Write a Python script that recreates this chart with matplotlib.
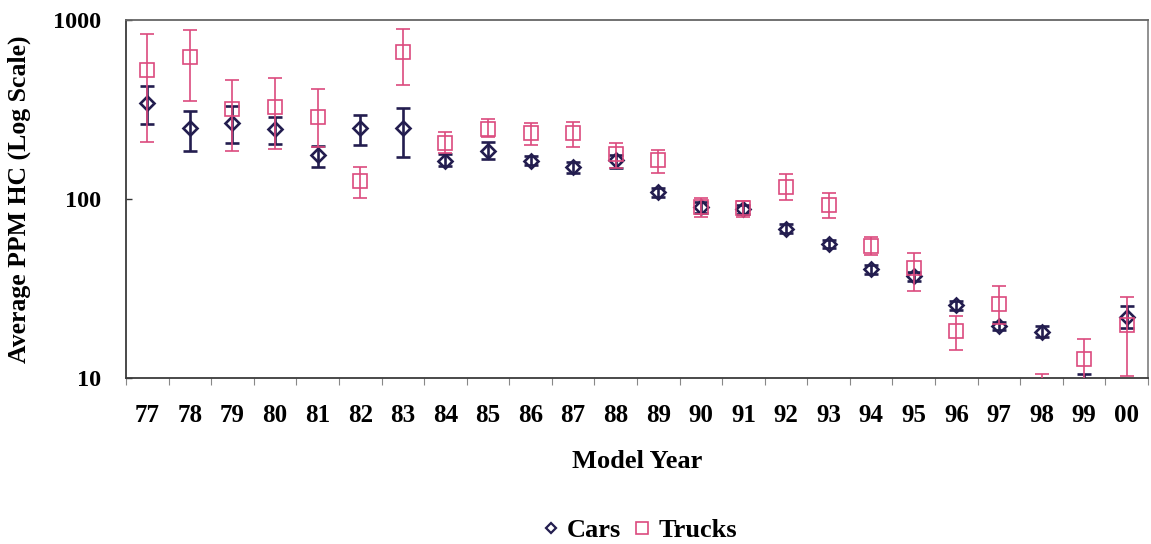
import matplotlib
matplotlib.use("Agg")
import matplotlib.pyplot as plt
import numpy as np
from matplotlib.lines import Line2D
from matplotlib.ticker import FixedLocator, NullLocator

plt.rcParams['font.family'] = ['Liberation Serif', 'DejaVu Serif']
plt.rcParams['font.weight'] = 'bold'

# Model years (two-digit labels)
years = ['77', '78', '79', '80', '81', '82', '83', '84', '85', '86', '87', '88',
         '89', '90', '91', '92', '93', '94', '95', '96', '97', '98', '99', '00']

# Cars: mean HC (ppm) with lower / upper ends of the error bars
cars_mean = [344, 249, 266, 246, 176, 249, 249, 163, 185, 163, 151, 165,
             109, 90, 88, 68, 56, 40.6, 37.2, 25.6, 19.5, 18.1, 8.5, 21.9]
cars_low = [262, 185, 206, 203, 151, 200, 172, 153, 167, 155, 140, 149,
            103, 84, 82, 64.6, 53, 38.1, 34.8, 24.0, 18.5, 16.9, 7.0, 19.0]
cars_high = [428, 310, 331, 287, 198, 294, 322, 178, 208, 174, 161, 176,
             115, 96, 92.5, 72.4, 59, 42.8, 39.0, 26.9, 20.6, 19.5, 10.5, 25.2]

# Trucks: mean HC (ppm) with lower / upper ends of the error bars
trucks_mean = [526, 621, 318, 326, 287, 126, 662, 206, 246, 234, 234, 178,
               165, 90, 89, 117, 92.5, 54.6, 41.2, 18.3, 25.9, 7.5, 12.8, 19.8]
trucks_low = [208, 352, 185, 190, 195, 101, 433, 181, 222, 200, 195, 149,
              140, 79, 79, 98.6, 78, 48.6, 30.6, 14.3, 20.0, 5.0, 9.4, 10.3]
trucks_high = [835, 880, 462, 474, 412, 151, 891, 237, 280, 266, 269, 206,
               188, 101, 97.5, 138, 108, 61, 49.9, 22.2, 32.6, 10.5, 16.5, 28.4]

car_color = '#231d4f'
truck_color = '#dc4a7e'

fig = plt.figure(figsize=(11.51, 5.44), dpi=100)
ax = fig.add_axes([126 / 1151, 1 - 378 / 544, 1022 / 1151, 358 / 544])

x = np.arange(len(years))


def err(mean, low, high):
    m = np.asarray(mean, float)
    return np.vstack([m - np.asarray(low, float), np.asarray(high, float) - m])


ax.errorbar(x, cars_mean, yerr=err(cars_mean, cars_low, cars_high),
            fmt='D', ms=7, mfc='none', mec=car_color, mew=1.9,
            ecolor=car_color, elinewidth=1.9, capsize=5, capthick=1.9,
            zorder=3)
ax.errorbar(x, trucks_mean, yerr=err(trucks_mean, trucks_low, trucks_high),
            fmt='s', ms=10, mfc='none', mec=truck_color, mew=1.2,
            ecolor=truck_color, elinewidth=1.2, capsize=5, capthick=1.2,
            zorder=4)

ax.set_yscale('log')
ax.set_ylim(10, 1000)
ax.set_xlim(-0.5, len(years) - 0.5)

ax.yaxis.set_major_locator(FixedLocator([10, 100, 1000]))
ax.yaxis.set_minor_locator(NullLocator())
ax.set_yticklabels(['10', '100', '1000'])
ax.tick_params(axis='y', which='major', direction='in', length=4,
               width=1, pad=18, labelsize=17.5, colors='#333333',
               labelcolor='black')

ax.set_xticks(x)
ax.set_xticklabels(years)
ax.xaxis.set_minor_locator(FixedLocator(np.arange(-0.5, len(years), 1.0)))
ax.tick_params(axis='x', which='major', length=0, pad=19, labelsize=18)
ax.tick_params(axis='x', which='minor', direction='out', length=5,
               width=0.8, colors='#888888')

for lab in ax.get_xticklabels() + ax.get_yticklabels():
    lab.set_fontweight('bold')

for side in ['left', 'bottom', 'top', 'right']:
    ax.spines[side].set_linewidth(1.3)
    ax.spines[side].set_color('#3a3a3a')
ax.spines['top'].set_color('#666666')
ax.spines['right'].set_color('#888888')

ax.set_ylabel('Average PPM HC (Log Scale)', fontsize=18.5, fontweight='bold')
ax.yaxis.set_label_coords(-0.093, 0.5)
ax.set_xlabel('Model Year', fontsize=19, fontweight='bold')
ax.xaxis.set_label_coords(0.5, -0.2)

handles = [
    Line2D([], [], ls='none', marker='D', ms=5.5, mfc='none', mec=car_color,
           mew=1.6, label='Cars'),
    Line2D([], [], ls='none', marker='s', ms=8, mfc='none', mec=truck_color,
           mew=1.2, label='Trucks'),
]
fig.legend(handles=handles, loc='center', ncol=2, frameon=False,
           bbox_to_anchor=(640 / 1151, 1 - 530 / 544),
           prop={'size': 19, 'weight': 'bold'}, handlelength=0.6,
           handletextpad=0.3, columnspacing=0.5, borderpad=0)

fig.savefig('out.png', dpi=100)
